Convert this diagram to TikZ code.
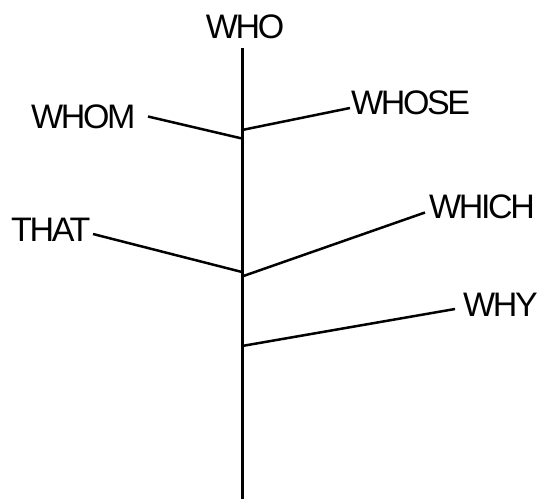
\documentclass[tikz,border=0pt]{standalone}
\usepackage{fontspec}
\setmainfont{Liberation Sans}[LetterSpace=-7]
\begin{document}
\begin{tikzpicture}[x=1pt,y=-1pt,
  lbl/.style={inner sep=0pt,font=\fontsize{34}{34}\selectfont},
  branch/.style={line width=2.5pt},
  trunkline/.style={line width=3pt}]
\useasboundingbox (0,0) rectangle (542,499);
% labels
\node[lbl,anchor=base] (who) at (245,38.5) {WHO};
\node[lbl,anchor=base west] (whom) at (31,128.5) {WHOM};
\node[lbl,anchor=base west] (whose) at (351,114.5) {WHOSE};
\node[lbl,anchor=base west] (that) at (11,241.5) {THAT};
\node[lbl,anchor=base west] (which) at (429,218.5) {WHICH};
\node[lbl,anchor=base west] (why) at (463,316.5) {WHY};
% trunk
\coordinate (top) at (242,48);
\coordinate (bot) at (242,502);
\draw[trunkline] (top) -- (bot);
% junctions and branch ends
\coordinate (jwhom) at (242,138.5);
\coordinate (jwhose) at (242,130);
\coordinate (jthat) at (242,272);
\coordinate (jwhich) at (242,276.5);
\coordinate (jwhy) at (242,346);
\coordinate (ewhom) at (148,116.5);
\coordinate (ewhose) at (350,108);
\coordinate (ethat) at (93,234);
\coordinate (ewhich) at (425,212.5);
\coordinate (ewhy) at (455,309);
\draw[branch] (ewhom) -- (jwhom);
\draw[branch] (jwhose) -- (ewhose);
\draw[branch] (ethat) -- (jthat);
\draw[branch] (jwhich) -- (ewhich);
\draw[branch] (jwhy) -- (ewhy);
\end{tikzpicture}
\end{document}
